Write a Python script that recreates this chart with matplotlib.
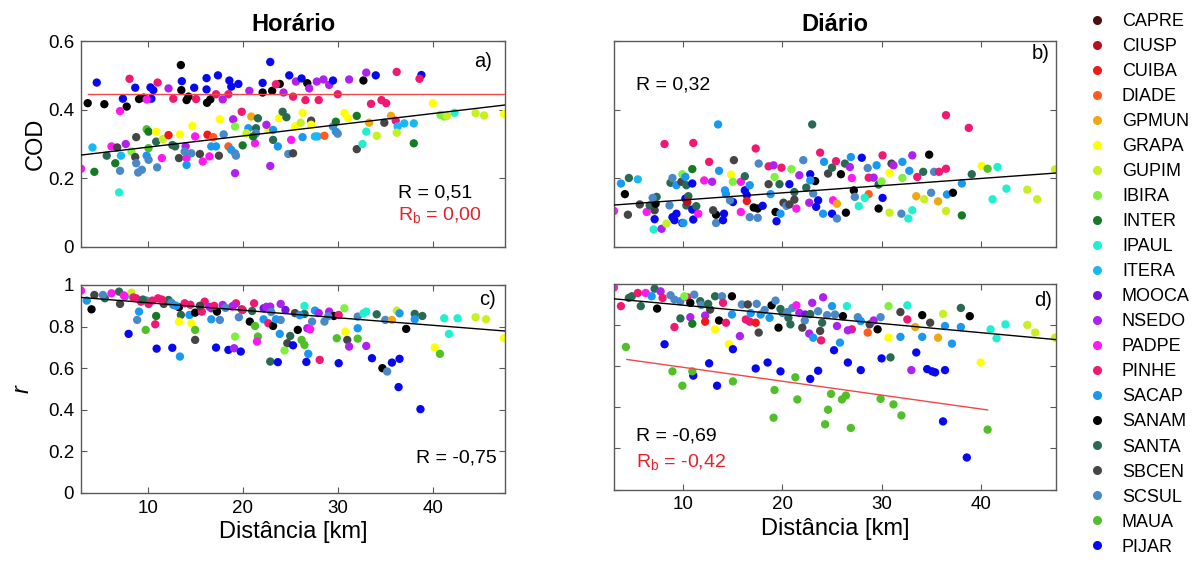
import matplotlib
matplotlib.use('Agg')
from matplotlib import pyplot as plt
from matplotlib.lines import Line2D
import matplotlib.ticker as mtick

plt.rcParams['font.family'] = ['Liberation Sans', 'DejaVu Sans']
plt.rcParams['mathtext.fontset'] = 'custom'
plt.rcParams['mathtext.rm'] = 'Liberation Sans'

# estações e cores
stations = ['CAPRE', 'CIUSP', 'CUIBA', 'DIADE', 'GPMUN', 'GRAPA', 'GUPIM', 'IBIRA',
            'INTER', 'IPAUL', 'ITERA', 'MOOCA', 'NSEDO', 'PADPE', 'PINHE', 'SACAP',
            'SANAM', 'SANTA', 'SBCEN', 'SCSUL', 'MAUA', 'PIJAR']
station_colors = ['#4d0f0f', '#b5121b', '#f01818', '#ff5a1f', '#f0a810', '#ffff00',
                  '#c8f020', '#80f040', '#157a25', '#20f0d0', '#18b8f8', '#7018e0',
                  '#b020f0', '#ff18f0', '#f01870', '#1898f0', '#000000', '#2b6a52',
                  '#454545', '#4a88c8', '#50c028', '#0808f0']

# a) COD horário: (estação, distância km, COD)
cod_hor = [
    ('SANAM', 3.7, 0.419), ('PIJAR', 4.65, 0.479), ('SANAM', 5.45, 0.416), ('PIJAR', 7.4, 0.432),
    ('SANAM', 7.8, 0.409), ('PADPE', 7.1, 0.396), ('PINHE', 8.1, 0.49), ('PIJAR', 8.7, 0.464),
    ('SANAM', 9.1, 0.431), ('SANAM', 9.6, 0.435), ('PIJAR', 10.3, 0.465), ('PIJAR', 10.6, 0.457),
    ('PIJAR', 10.4, 0.432), ('PINHE', 11.05, 0.479), ('PADPE', 9.9, 0.43), ('NSEDO', 12.2, 0.462),
    ('PINHE', 12.7, 0.432), ('SANAM', 13.5, 0.53), ('PIJAR', 13.6, 0.483), ('SANAM', 13.55, 0.457),
    ('SANAM', 14.3, 0.438), ('SANAM', 14.1, 0.428), ('PIJAR', 14.9, 0.464), ('PINHE', 15.1, 0.431),
    ('PIJAR', 16.2, 0.492), ('PIJAR', 16.2, 0.459), ('SANAM', 16.25, 0.42), ('SANAM', 16.6, 0.43),
    ('PINHE', 17.2, 0.445), ('PIJAR', 17.4, 0.5), ('NSEDO', 17.9, 0.43), ('PINHE', 18.5, 0.445),
    ('PIJAR', 18.6, 0.485), ('PIJAR', 18.8, 0.467), ('PIJAR', 19.55, 0.475), ('NSEDO', 20.7, 0.455),
    ('PIJAR', 22.1, 0.478), ('SANAM', 22.1, 0.45), ('PIJAR', 22.9, 0.539), ('SANAM', 23.1, 0.455),
    ('SANAM', 23.9, 0.475), ('PINHE', 23.5, 0.474), ('NSEDO', 24.3, 0.45), ('PIJAR', 24.9, 0.5),
    ('PINHE', 25.3, 0.438), ('NSEDO', 25.6, 0.482), ('PIJAR', 26.2, 0.491), ('SANAM', 26.8, 0.477),
    ('NSEDO', 27.0, 0.462), ('PINHE', 26.6, 0.428), ('NSEDO', 27.8, 0.482), ('PINHE', 28.0, 0.428),
    ('NSEDO', 28.5, 0.488), ('NSEDO', 29.1, 0.472), ('PIJAR', 29.5, 0.485), ('PINHE', 30.0, 0.445),
    ('NSEDO', 31.2, 0.488), ('SANAM', 32.7, 0.485), ('PINHE', 33.5, 0.417), ('PIJAR', 34.0, 0.5),
    ('PINHE', 34.6, 0.428), ('PINHE', 35.1, 0.419), ('NSEDO', 33.0, 0.508), ('PINHE', 36.2, 0.51),
    ('PIJAR', 38.8, 0.501), ('PINHE', 38.6, 0.49),
    ('PADPE', 3.0, 0.228), ('ITERA', 4.2, 0.29), ('INTER', 4.4, 0.219), ('SANTA', 5.7, 0.266),
    ('PADPE', 6.2, 0.293), ('SBCEN', 6.8, 0.29), ('INTER', 6.6, 0.244), ('ITERA', 7.2, 0.266),
    ('SCSUL', 7.1, 0.222), ('IPAUL', 7.0, 0.159), ('NSEDO', 7.7, 0.30), ('IBIRA', 8.3, 0.278),
    ('SBCEN', 8.7, 0.262), ('SCSUL', 8.8, 0.244), ('SBCEN', 8.8, 0.32), ('SCSUL', 9.0, 0.217),
    ('SCSUL', 9.4, 0.225), ('SACAP', 9.9, 0.266), ('MAUA', 9.9, 0.343), ('INTER', 10.1, 0.336),
    ('SCSUL', 10.1, 0.254), ('MAUA', 10.1, 0.288), ('GRAPA', 10.9, 0.336), ('SCSUL', 11.0, 0.232),
    ('SANTA', 10.9, 0.307), ('GUPIM', 11.6, 0.314), ('PADPE', 11.5, 0.259), ('CUIBA', 12.2, 0.326),
    ('GRAPA', 13.4, 0.328), ('SANTA', 12.6, 0.297), ('SANTA', 12.9, 0.293), ('SBCEN', 13.3, 0.259),
    ('PADPE', 14.1, 0.259), ('NSEDO', 14.0, 0.293), ('SACAP', 14.1, 0.239), ('SCSUL', 13.9, 0.278),
    ('GRAPA', 14.7, 0.353), ('PADPE', 15.0, 0.322), ('SCSUL', 14.6, 0.273), ('SBCEN', 15.5, 0.271),
    ('PADPE', 15.8, 0.249), ('CUIBA', 16.3, 0.327), ('DIADE', 16.9, 0.32), ('PADPE', 16.5, 0.264),
    ('SACAP', 16.7, 0.293), ('SACAP', 17.2, 0.293), ('GRAPA', 17.6, 0.372), ('SBCEN', 17.5, 0.266),
    ('SCSUL', 18.0, 0.328), ('DIADE', 18.5, 0.293), ('NSEDO', 19.0, 0.372), ('IBIRA', 19.2, 0.351),
    ('SACAP', 18.8, 0.283), ('SCSUL', 19.2, 0.273), ('SCSUL', 19.3, 0.266), ('NSEDO', 19.2, 0.215),
    ('PINHE', 19.9, 0.394), ('INTER', 20.0, 0.296), ('SACAP', 20.6, 0.346), ('GPMUN', 20.9, 0.38),
    ('GUPIM', 20.4, 0.331), ('PADPE', 21.3, 0.302), ('SANTA', 21.6, 0.375), ('SANTA', 21.4, 0.346),
    ('SCSUL', 21.4, 0.331), ('INTER', 21.1, 0.322), ('GRAPA', 22.7, 0.341), ('NSEDO', 22.5, 0.356),
    ('SACAP', 23.2, 0.341), ('SANTA', 23.2, 0.312), ('NSEDO', 22.9, 0.236), ('GRAPA', 23.8, 0.375),
    ('SANTA', 24.2, 0.394), ('SANTA', 24.6, 0.378), ('SACAP', 23.7, 0.293), ('SCSUL', 24.8, 0.271),
    ('SBCEN', 25.3, 0.273), ('PADPE', 25.1, 0.312), ('GRAPA', 25.5, 0.351), ('GRAPA', 26.3, 0.391),
    ('GUPIM', 26.1, 0.362), ('SACAP', 26.3, 0.32), ('SBCEN', 27.2, 0.368), ('GRAPA', 27.2, 0.356),
    ('ITERA', 27.6, 0.322), ('ITERA', 27.9, 0.322), ('DIADE', 28.6, 0.324), ('SCSUL', 29.5, 0.351),
    ('SACAP', 29.8, 0.336), ('SCSUL', 30.0, 0.33), ('GRAPA', 30.7, 0.39), ('INTER', 29.8, 0.365),
    ('GRAPA', 31.1, 0.375), ('INTER', 32.0, 0.382), ('SBCEN', 32.0, 0.285), ('IPAUL', 32.6, 0.30),
    ('GPMUN', 33.3, 0.362), ('IPAUL', 33.0, 0.336), ('GUPIM', 34.1, 0.324), ('SBCEN', 34.9, 0.362),
    ('GPMUN', 35.6, 0.382), ('PINHE', 36.1, 0.368), ('ITERA', 36.3, 0.351), ('GUPIM', 36.2, 0.333),
    ('ITERA', 37.0, 0.36), ('ITERA', 38.0, 0.36), ('INTER', 38.0, 0.302), ('GRAPA', 40.0, 0.419),
    ('IBIRA', 40.8, 0.385), ('IBIRA', 41.2, 0.38), ('GUPIM', 41.5, 0.382), ('IPAUL', 42.3, 0.391),
    ('GUPIM', 44.5, 0.39), ('GUPIM', 45.4, 0.383), ('GRAPA', 47.5, 0.387),
]

# b) COD diário
cod_dia = [
    ('PADPE', 3.0, 0.105), ('SACAP', 3.7, 0.185), ('SANTA', 4.5, 0.201), ('ITERA', 5.4, 0.197),
    ('SANAM', 4.1, 0.154), ('SBCEN', 4.4, 0.094), ('SBCEN', 5.6, 0.124), ('PADPE', 6.3, 0.102),
    ('SANTA', 6.6, 0.121), ('SBCEN', 7.1, 0.107), ('SANAM', 7.2, 0.126), ('SANTA', 7.3, 0.146),
    ('SCSUL', 6.9, 0.143), ('PIJAR', 7.1, 0.081), ('IPAUL', 7.0, 0.051), ('NSEDO', 7.8, 0.053),
    ('GUPIM', 8.3, 0.068), ('PINHE', 8.1, 0.30), ('SCSUL', 8.6, 0.121), ('SANTA', 8.7, 0.187),
    ('SCSUL', 8.9, 0.201), ('PIJAR', 8.9, 0.087), ('PIJAR', 9.3, 0.097), ('PIJAR', 9.1, 0.078),
    ('SACAP', 9.3, 0.18), ('SBCEN', 9.8, 0.19), ('IBIRA', 9.9, 0.212), ('SACAP', 10.2, 0.204),
    ('SANTA', 10.3, 0.18), ('PIJAR', 10.2, 0.141), ('PIJAR', 9.9, 0.07), ('SACAP', 10.0, 0.07),
    ('SANTA', 10.3, 0.121), ('SANTA', 10.5, 0.148), ('CIUSP', 10.4, 0.131), ('INTER', 10.9, 0.227),
    ('PINHE', 11.0, 0.303), ('PIJAR', 10.9, 0.185), ('PIJAR', 10.9, 0.109), ('PIJAR', 11.0, 0.08),
    ('PADPE', 11.5, 0.097), ('SANTA', 11.3, 0.119), ('PADPE', 12.1, 0.194), ('NSEDO', 12.9, 0.19),
    ('SANAM', 13.3, 0.094), ('SBCEN', 13.0, 0.107), ('SACAP', 13.5, 0.357), ('PINHE', 12.6, 0.248),
    ('SACAP', 13.6, 0.222), ('SCSUL', 13.3, 0.07), ('PIJAR', 14.0, 0.078), ('PIJAR', 14.1, 0.097),
    ('GRAPA', 14.8, 0.211), ('SBCEN', 15.1, 0.253), ('IBIRA', 15.0, 0.19), ('SACAP', 14.2, 0.165),
    ('SACAP', 14.3, 0.154), ('PIJAR', 15.0, 0.131), ('SCSUL', 14.7, 0.136), ('PADPE', 15.8, 0.19),
    ('SANTA', 16.2, 0.206), ('PIJAR', 16.2, 0.165), ('PIJAR', 16.4, 0.151), ('CUIBA', 16.4, 0.134),
    ('SACAP', 16.7, 0.18), ('PADPE', 15.8, 0.102), ('SCSUL', 16.7, 0.087), ('PINHE', 17.3, 0.287),
    ('SANAM', 17.1, 0.115), ('SANAM', 17.5, 0.112), ('SCSUL', 17.6, 0.243), ('SCSUL', 17.5, 0.085),
    ('PIJAR', 18.0, 0.12), ('SBCEN', 18.6, 0.183), ('SACAP', 18.8, 0.154), ('PINHE', 18.6, 0.235),
    ('NSEDO', 19.1, 0.238), ('IBIRA', 19.2, 0.204), ('SANTA', 19.7, 0.183), ('PIJAR', 19.4, 0.075),
    ('SANAM', 19.3, 0.102), ('PINHE', 19.9, 0.231), ('SACAP', 19.8, 0.097), ('SBCEN', 20.1, 0.129),
    ('SCSUL', 20.4, 0.12), ('SBCEN', 20.7, 0.124), ('PIJAR', 20.7, 0.183), ('IBIRA', 20.9, 0.227),
    ('SANTA', 21.2, 0.16), ('PADPE', 21.4, 0.112), ('SBCEN', 21.2, 0.138), ('NSEDO', 21.7, 0.209),
    ('SCSUL', 22.1, 0.253), ('SANAM', 23.3, 0.192), ('PIJAR', 22.8, 0.212), ('SACAP', 22.8, 0.194),
    ('SANTA', 22.4, 0.173), ('NSEDO', 22.7, 0.129), ('SANTA', 23.0, 0.357), ('PIJAR', 23.4, 0.117),
    ('PIJAR', 23.6, 0.136), ('SCSUL', 23.1, 0.156), ('PINHE', 23.8, 0.275), ('SACAP', 24.2, 0.248),
    ('SBCEN', 24.6, 0.214), ('SANTA', 25.0, 0.231), ('PADPE', 25.1, 0.136), ('PIJAR', 25.0, 0.097),
    ('SACAP', 24.1, 0.097), ('GPMUN', 25.5, 0.126), ('SCSUL', 25.5, 0.083), ('PINHE', 25.4, 0.25),
    ('SANAM', 25.9, 0.212), ('SANTA', 26.3, 0.243), ('SACAP', 26.9, 0.262), ('NSEDO', 26.8, 0.233),
    ('SANAM', 26.4, 0.10), ('SANAM', 27.2, 0.165), ('SCSUL', 27.3, 0.146), ('IPAUL', 27.7, 0.119),
    ('PADPE', 27.0, 0.201), ('PIJAR', 28.0, 0.26), ('SCSUL', 28.6, 0.23), ('PINHE', 28.7, 0.202),
    ('DIADE', 28.7, 0.154), ('IPAUL', 28.3, 0.143), ('SACAP', 29.5, 0.238), ('NSEDO', 29.2, 0.202),
    ('SANTA', 29.7, 0.182), ('IBIRA', 30.0, 0.191), ('PINHE', 30.1, 0.267), ('PIJAR', 30.1, 0.143),
    ('SANAM', 29.7, 0.112), ('GUPIM', 30.8, 0.10), ('GRAPA', 30.8, 0.216), ('SBCEN', 31.0, 0.243),
    ('NSEDO', 31.2, 0.238), ('IBIRA', 32.1, 0.201), ('SACAP', 32.1, 0.248), ('SCSUL', 32.0, 0.097),
    ('IPAUL', 32.7, 0.083), ('IPAUL', 33.1, 0.107), ('SACAP', 32.8, 0.222), ('NSEDO', 33.1, 0.267),
    ('PINHE', 33.6, 0.204), ('GPMUN', 33.5, 0.148), ('SANTA', 34.2, 0.219), ('GUPIM', 34.3, 0.139),
    ('SANAM', 34.8, 0.269), ('SCSUL', 35.0, 0.158), ('SCSUL', 35.3, 0.219), ('PINHE', 35.8, 0.219),
    ('GPMUN', 35.7, 0.133), ('PINHE', 36.5, 0.228), ('PINHE', 36.5, 0.384), ('SACAP', 36.6, 0.153),
    ('GUPIM', 36.5, 0.105), ('SANAM', 37.2, 0.158), ('INTER', 38.1, 0.092), ('PINHE', 38.8, 0.347),
    ('SACAP', 38.1, 0.185), ('SANTA', 39.1, 0.212), ('GRAPA', 40.1, 0.236), ('MAUA', 40.7, 0.228),
    ('IPAUL', 41.7, 0.233), ('IPAUL', 41.2, 0.139), ('IPAUL', 42.6, 0.17), ('GUPIM', 44.7, 0.167),
    ('GUPIM', 45.7, 0.139), ('GUPIM', 47.5, 0.226),
]

# c) r horário
r_hor = [
    ('PADPE', 3.0, 0.973), ('SACAP', 3.6, 0.925), ('SANAM', 4.1, 0.883), ('SBCEN', 4.4, 0.952),
    ('SANTA', 5.5, 0.936), ('SCSUL', 5.3, 0.952), ('PADPE', 6.2, 0.96), ('SANTA', 7.0, 0.968),
    ('SBCEN', 7.1, 0.909), ('GUPIM', 8.3, 0.963), ('SCSUL', 7.6, 0.944), ('PINHE', 8.8, 0.936),
    ('PINHE', 9.3, 0.92), ('SCSUL', 9.9, 0.925), ('PINHE', 10.1, 0.909), ('SACAP', 9.1, 0.872),
    ('SCSUL', 8.9, 0.832), ('MAUA', 9.8, 0.784), ('PIJAR', 8.0, 0.765), ('PINHE', 10.8, 0.811),
    ('INTER', 10.9, 0.851), ('PINHE', 11.1, 0.936), ('SBCEN', 11.7, 0.909), ('SANTA', 12.2, 0.928),
    ('SCSUL', 12.7, 0.904), ('SANAM', 13.3, 0.893), ('SANTA', 13.5, 0.856), ('GRAPA', 13.3, 0.824),
    ('PINHE', 13.9, 0.912), ('SACAP', 14.4, 0.856), ('SANAM', 15.0, 0.867), ('GRAPA', 14.6, 0.816),
    ('MAUA', 15.0, 0.784), ('SBCEN', 15.0, 0.736), ('PIJAR', 10.95, 0.694), ('PIJAR', 12.6, 0.698),
    ('SACAP', 13.4, 0.656), ('PINHE', 16.0, 0.92), ('PINHE', 15.7, 0.872), ('SANTA', 16.7, 0.888),
    ('SACAP', 16.7, 0.835), ('SCSUL', 17.6, 0.832), ('SANAM', 17.3, 0.872), ('NSEDO', 17.9, 0.904),
    ('PINHE', 18.9, 0.896), ('PINHE', 19.3, 0.912), ('SCSUL', 19.6, 0.845), ('SANTA', 19.9, 0.883),
    ('SANAM', 20.75, 0.824), ('MAUA', 21.3, 0.803), ('MAUA', 21.6, 0.752), ('PADPE', 21.5, 0.728),
    ('IBIRA', 19.2, 0.752), ('PIJAR', 17.2, 0.699), ('PIJAR', 18.5, 0.688), ('NSEDO', 19.1, 0.696),
    ('PIJAR', 19.8, 0.68), ('PINHE', 21.2, 0.912), ('MOOCA', 22.2, 0.888), ('NSEDO', 22.9, 0.896),
    ('NSEDO', 24.0, 0.909), ('SACAP', 22.2, 0.835), ('PINHE', 22.7, 0.816), ('SANAM', 23.2, 0.803),
    ('SACAP', 23.5, 0.835), ('SCSUL', 24.0, 0.832), ('SACAP', 23.9, 0.765), ('SANTA', 25.0, 0.755),
    ('SBCEN', 24.7, 0.72), ('IBIRA', 24.4, 0.685), ('PIJAR', 25.3, 0.71), ('SANTA', 22.9, 0.632),
    ('PIJAR', 23.7, 0.629), ('SANAM', 25.8, 0.784), ('MAUA', 26.2, 0.736), ('MAUA', 26.5, 0.712),
    ('SACAP', 26.9, 0.669), ('PIJAR', 26.7, 0.63), ('PINHE', 28.1, 0.64), ('NSEDO', 26.8, 0.792),
    ('PADPE', 27.1, 0.787), ('SANTA', 26.5, 0.861), ('IPAUL', 26.5, 0.899), ('SACAP', 27.6, 0.877),
    ('SCSUL', 27.3, 0.824), ('NSEDO', 29.1, 0.872), ('SCSUL', 28.6, 0.824), ('SANAM', 29.6, 0.851),
    ('PINHE', 30.1, 0.856), ('IBIRA', 30.7, 0.888), ('PIJAR', 30.1, 0.624), ('MAUA', 29.9, 0.744),
    ('GRAPA', 30.8, 0.776), ('SBCEN', 31.0, 0.736), ('NSEDO', 31.2, 0.704), ('SACAP', 32.1, 0.792),
    ('MAUA', 32.1, 0.742), ('NSEDO', 33.0, 0.707), ('SCSUL', 32.1, 0.848), ('IPAUL', 32.7, 0.864),
    ('IPAUL', 33.0, 0.872), ('SANTA', 34.1, 0.859), ('SCSUL', 35.0, 0.832), ('GPMUN', 35.7, 0.832),
    ('GUPIM', 36.2, 0.877), ('SACAP', 36.5, 0.864), ('PIJAR', 33.6, 0.648), ('SANAM', 34.7, 0.60),
    ('SCSUL', 35.2, 0.584), ('PIJAR', 35.7, 0.627), ('PIJAR', 36.5, 0.645), ('PIJAR', 36.4, 0.509),
    ('SANAM', 37.2, 0.789), ('SANTA', 38.1, 0.861), ('SACAP', 38.1, 0.835), ('SANTA', 38.9, 0.851),
    ('PIJAR', 38.7, 0.403), ('GRAPA', 40.2, 0.70), ('MAUA', 40.75, 0.669), ('IPAUL', 41.2, 0.84),
    ('IPAUL', 41.7, 0.765), ('IPAUL', 42.6, 0.84), ('GUPIM', 44.5, 0.845), ('GUPIM', 45.6, 0.835),
    ('GRAPA', 47.5, 0.744),
    ('PADPE', 7.5, 0.95), ('PINHE', 8.5, 0.94), ('SANTA', 9.5, 0.93), ('PINHE', 10.5, 0.925),
    ('PINHE', 11.5, 0.93), ('SCSUL', 12.5, 0.915), ('SACAP', 13.0, 0.90), ('PINHE', 14.5, 0.905),
    ('SBCEN', 15.5, 0.90), ('NSEDO', 16.5, 0.895), ('PINHE', 17.0, 0.90), ('SCSUL', 18.2, 0.89),
    ('NSEDO', 19.0, 0.90), ('PINHE', 20.0, 0.88), ('SANTA', 21.0, 0.875), ('NSEDO', 22.5, 0.895),
    ('SCSUL', 23.0, 0.87), ('MOOCA', 24.5, 0.88), ('SBCEN', 25.5, 0.865), ('SACAP', 26.0, 0.855),
    ('NSEDO', 28.0, 0.865), ('SCSUL', 29.0, 0.85),
]

# d) r diário
r_dia = [
    ('PADPE', 3.0, 0.985), ('PINHE', 3.7, 0.894), ('SANTA', 4.5, 0.934), ('SANTA', 4.8, 0.942),
    ('PINHE', 5.4, 0.958), ('SANTA', 5.7, 0.894), ('SANTA', 7.1, 0.979), ('PADPE', 6.2, 0.958),
    ('SANAM', 7.35, 0.882), ('NSEDO', 7.7, 0.966), ('SACAP', 6.8, 0.942), ('PINHE', 7.9, 0.934),
    ('SCSUL', 8.7, 0.947), ('SCSUL', 9.1, 0.926), ('SCSUL', 9.7, 0.918), ('PINHE', 10.4, 0.937),
    ('IBIRA', 10.1, 0.942), ('SANAM', 10.7, 0.91), ('SCSUL', 11.1, 0.95), ('SANTA', 9.7, 0.834),
    ('PINHE', 9.1, 0.792), ('NSEDO', 10.7, 0.84), ('INTER', 10.9, 0.808), ('MAUA', 4.2, 0.695),
    ('PIJAR', 8.1, 0.708), ('SANTA', 11.7, 0.918), ('NSEDO', 12.2, 0.848), ('CUIBA', 12.2, 0.818),
    ('SBCEN', 12.7, 0.877), ('SANAM', 13.6, 0.824), ('SANTA', 13.2, 0.942), ('SCSUL', 13.9, 0.942),
    ('SANAM', 14.9, 0.942), ('PINHE', 14.0, 0.91), ('SACAP', 14.9, 0.853), ('PINHE', 14.3, 0.813),
    ('GRAPA', 13.2, 0.781), ('NSEDO', 15.7, 0.748), ('GRAPA', 14.6, 0.708), ('PIJAR', 15.0, 0.684),
    ('SCSUL', 15.9, 0.902), ('SBCEN', 16.5, 0.902), ('SCSUL', 17.4, 0.905), ('PINHE', 16.3, 0.829),
    ('PINHE', 16.7, 0.818), ('CUIBA', 17.3, 0.813), ('SBCEN', 17.6, 0.765), ('SACAP', 17.8, 0.853),
    ('SACAP', 18.7, 0.837), ('SANAM', 18.9, 0.898), ('SCSUL', 19.3, 0.921), ('SANAM', 19.6, 0.789),
    ('SCSUL', 20.0, 0.861), ('SANTA', 20.6, 0.837), ('SANTA', 20.8, 0.805), ('SCSUL', 21.0, 0.885),
    ('PADPE', 21.4, 0.898), ('NSEDO', 21.7, 0.861), ('MOOCA', 22.3, 0.853), ('SCSUL', 22.25, 0.824),
    ('SBCEN', 22.0, 0.789), ('NSEDO', 23.0, 0.91), ('NSEDO', 24.1, 0.937), ('SCSUL', 23.6, 0.869),
    ('SANTA', 24.0, 0.813), ('SBCEN', 23.8, 0.773), ('NSEDO', 22.7, 0.76), ('SACAP', 23.1, 0.74),
    ('PINHE', 23.9, 0.727), ('SACAP', 25.0, 0.894), ('SCSUL', 25.3, 0.853), ('NSEDO', 25.5, 0.797),
    ('SACAP', 25.8, 0.716), ('PIJAR', 25.2, 0.679), ('IPAUL', 26.5, 0.894), ('SANAM', 26.1, 0.845),
    ('PINHE', 27.0, 0.781), ('NSEDO', 26.6, 0.776), ('SCSUL', 27.6, 0.84), ('SACAP', 27.9, 0.821),
    ('DIADE', 28.6, 0.765), ('SBCEN', 28.8, 0.805), ('NSEDO', 29.2, 0.824), ('SANAM', 29.6, 0.781),
    ('SCSUL', 29.9, 0.84), ('PIJAR', 26.6, 0.619), ('PIJAR', 27.9, 0.582), ('PIJAR', 30.0, 0.639),
    ('SANTA', 30.9, 0.644), ('PIJAR', 33.5, 0.668), ('PIJAR', 23.6, 0.579), ('PIJAR', 22.8, 0.539),
    ('PIJAR', 19.8, 0.576), ('PIJAR', 18.5, 0.619), ('PIJAR', 17.3, 0.59), ('PIJAR', 12.6, 0.615),
    ('PIJAR', 11.0, 0.555), ('PIJAR', 13.4, 0.506), ('MAUA', 8.9, 0.576), ('MAUA', 9.9, 0.506),
    ('MAUA', 10.9, 0.576), ('MAUA', 15.0, 0.527), ('MAUA', 19.2, 0.485), ('MAUA', 19.1, 0.35),
    ('MAUA', 21.3, 0.547), ('MAUA', 21.5, 0.439), ('MAUA', 24.3, 0.318), ('MAUA', 24.6, 0.389),
    ('MAUA', 24.9, 0.466), ('MAUA', 26.0, 0.439), ('MAUA', 26.4, 0.458), ('MAUA', 26.9, 0.30),
    ('MAUA', 29.9, 0.442), ('MAUA', 31.2, 0.415), ('MAUA', 32.0, 0.361), ('MAUA', 40.7, 0.292),
    ('PIJAR', 36.2, 0.332), ('PIJAR', 38.6, 0.156), ('NSEDO', 33.0, 0.582), ('PIJAR', 34.6, 0.587),
    ('PIJAR', 35.1, 0.576), ('PIJAR', 35.4, 0.571), ('PIJAR', 36.4, 0.582), ('IBIRA', 30.7, 0.894),
    ('SBCEN', 31.9, 0.865), ('IPAUL', 32.6, 0.898), ('PINHE', 32.6, 0.829), ('SANAM', 34.1, 0.85),
    ('SBCEN', 34.9, 0.813), ('GPMUN', 33.4, 0.792), ('GRAPA', 30.7, 0.74), ('SACAP', 31.9, 0.744),
    ('SACAP', 34.1, 0.744), ('GUPIM', 36.2, 0.856), ('SACAP', 36.4, 0.797), ('GPMUN', 35.7, 0.74),
    ('SACAP', 37.1, 0.711), ('SANTA', 38.0, 0.885), ('SACAP', 38.0, 0.792), ('SANAM', 38.9, 0.845),
    ('GRAPA', 40.0, 0.619), ('IPAUL', 41.0, 0.781), ('IPAUL', 41.6, 0.737), ('IPAUL', 42.5, 0.805),
    ('GUPIM', 44.7, 0.802), ('GUPIM', 45.5, 0.765), ('GUPIM', 47.5, 0.74),
    ('SCSUL', 11.8, 0.90), ('SANTA', 12.5, 0.905), ('SACAP', 16.8, 0.86), ('SCSUL', 18.2, 0.875),
    ('SANTA', 19.8, 0.88), ('SCSUL', 20.5, 0.865), ('SANTA', 22.8, 0.855), ('SCSUL', 24.5, 0.85),
]

# retas ajustadas: (x inicial, x final, coef. angular, intercepto)
fit_all = {'a': (3.0, 47.6, 0.00327, 0.258), 'b': (3.0, 47.6, 0.00209, 0.116),
           'c': (3.0, 47.6, -0.00362, 0.951), 'd': (3.0, 47.6, -0.00446, 0.943)}
fit_b = {'a': (3.7, 47.6, 0.0, 0.447), 'd': (4.3, 40.7, -0.00676, 0.663)}

r_text = {'a': 'R = 0,51', 'b': 'R = 0,32', 'c': 'R = -0,75', 'd': 'R = -0,69'}
rb_text = {'a': 'R$_\\mathregular{b}$ = 0,00', 'd': 'R$_\\mathregular{b}$ = -0,42'}

color_of = dict(zip(stations, station_colors))

fig = plt.figure(figsize=(11.92, 5.62), dpi=100)
axes = {
    'a': fig.add_axes([0.0680, 0.5605, 0.3557, 0.3665]),
    'b': fig.add_axes([0.5151, 0.5605, 0.3708, 0.3665]),
    'c': fig.add_axes([0.0680, 0.1228, 0.3557, 0.3701]),
    'd': fig.add_axes([0.5151, 0.1290, 0.3708, 0.3650]),
}
panel_data = {'a': cod_hor, 'b': cod_dia, 'c': r_hor, 'd': r_dia}

for key, ax in axes.items():
    rows = panel_data[key]
    xs = [p[1] for p in rows]
    ys = [p[2] for p in rows]
    cs = [color_of[p[0]] for p in rows]
    ax.scatter(xs, ys, s=36, c=cs, edgecolors='none', zorder=2)

    x0, x1, m, b = fit_all[key]
    ax.plot([x0, x1], [m * x0 + b, m * x1 + b], color='k', lw=1.0, zorder=3)
    if key in fit_b:
        x0, x1, m, b = fit_b[key]
        ax.plot([x0, x1], [m * x0 + b, m * x1 + b], color='#f04848', lw=1.0, zorder=3)

    ax.set_xlim(3, 47.6)
    ax.set_xticks([10, 20, 30, 40])
    if key in ('a', 'b'):
        ax.set_ylim(0, 0.6)
        ax.set_yticks([0, 0.2, 0.4, 0.6])
        ax.set_xticklabels([])
    else:
        ax.set_ylim(0, 1)
        ax.set_yticks([0, 0.2, 0.4, 0.6, 0.8, 1])
        ax.set_xlabel('Distância [km]', fontsize=17, labelpad=3)
    if key in ('b', 'd'):
        ax.set_yticklabels([])
    else:
        ax.yaxis.set_major_formatter(mtick.FormatStrFormatter('%g'))
    ax.tick_params(direction='in', top=True, right=True, length=4, width=0.8,
                   color='0.35', labelsize=13.5, pad=5)
    for sp in ax.spines.values():
        sp.set_color('0.35')
        sp.set_linewidth(1.0)

axes['a'].set_title('Horário', fontsize=17, fontweight='bold', pad=7)
axes['b'].set_title('Diário', fontsize=17, fontweight='bold', pad=7)
axes['a'].set_ylabel('COD', fontsize=17)
axes['a'].yaxis.set_label_coords(-0.080, 0.5)
axes['c'].set_ylabel('r', fontsize=17, fontstyle='italic')
axes['c'].yaxis.set_label_coords(-0.113, 0.5)

# rótulos dos painéis
axes['a'].text(0.969, 0.90, 'a)', transform=axes['a'].transAxes, ha='right', va='center', fontsize=14.5)
axes['b'].text(0.986, 0.94, 'b)', transform=axes['b'].transAxes, ha='right', va='center', fontsize=14.5)
axes['c'].text(0.979, 0.928, 'c)', transform=axes['c'].transAxes, ha='right', va='center', fontsize=14.5)
axes['d'].text(0.990, 0.92, 'd)', transform=axes['d'].transAxes, ha='right', va='center', fontsize=14.5)

# coeficientes de correlação
axes['a'].text(36.3, 0.157, r_text['a'], ha='left', va='center', fontsize=14)
axes['a'].text(36.3, 0.090, rb_text['a'], ha='left', va='center', fontsize=14, color='#e8202a')
axes['b'].text(5.2, 0.471, r_text['b'], ha='left', va='center', fontsize=14)
axes['c'].text(46.7, 0.166, r_text['c'], ha='right', va='center', fontsize=14)
axes['d'].text(5.2, 0.263, r_text['d'], ha='left', va='center', fontsize=14)
axes['d'].text(5.2, 0.130, rb_text['d'], ha='left', va='center', fontsize=14, color='#e8202a')

handles = [Line2D([], [], marker='o', ls='none', markersize=6.5, markerfacecolor=c,
                  markeredgecolor='none', label=s) for s, c in zip(stations, station_colors)]
fig.legend(handles=handles, loc='upper left', bbox_to_anchor=(0.914, 0.977), frameon=False,
           fontsize=13, labelspacing=0.445, handlelength=0.8, handletextpad=1.0, borderpad=0,
           borderaxespad=0)

fig.savefig('out.png', dpi=100)
